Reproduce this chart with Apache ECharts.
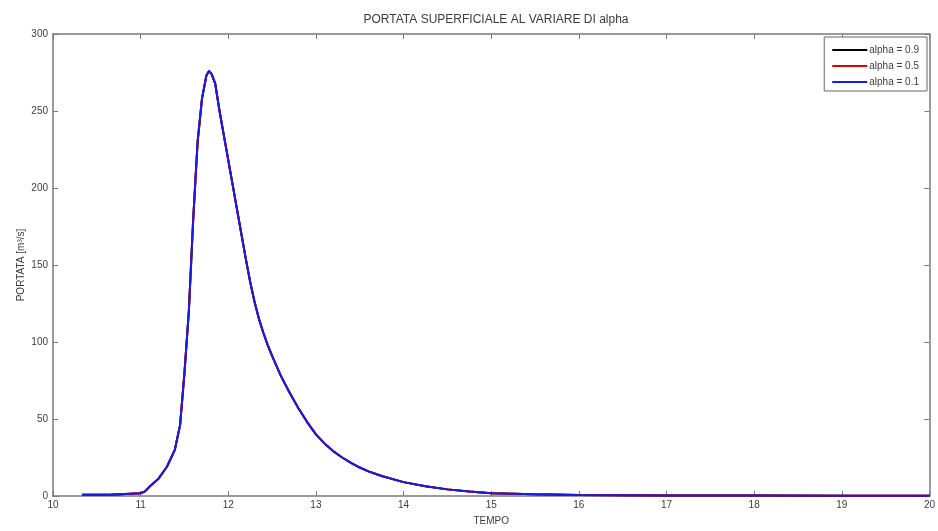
<!DOCTYPE html>
<html>
<head>
<meta charset="utf-8">
<script src="https://cdn.jsdelivr.net/npm/echarts@6/dist/echarts.min.js"></script>
<style>
  html, body { margin: 0; padding: 0; background: #fff; }
  #chart { width: 938px; height: 531px; }
</style>
</head>
<body>
<div id="chart"></div>
<script>
// Surface runoff hydrograph for three values of alpha
const tempo = [10.33, 10.65, 10.66, 11.0, 11.05, 11.1, 11.2, 11.3, 11.39, 11.45, 11.5, 11.55,
  11.6, 11.65, 11.7, 11.75, 11.78, 11.81, 11.85, 11.9, 11.95, 12.0, 12.05, 12.1, 12.15, 12.2,
  12.25, 12.3, 12.35, 12.4, 12.45, 12.5, 12.6, 12.7, 12.8, 12.9, 13.0, 13.1, 13.2, 13.3,
  13.4, 13.5, 13.6, 13.75, 14.0, 14.25, 14.5, 14.75, 15.0, 15.5, 16, 17, 18, 19, 20];

const portataAlpha09 = [0.8, 0.8, 1.5, 1.8, 3, 6, 11, 19, 30, 46, 80, 120,
  180, 230, 258, 273, 276, 274, 268, 250, 234, 218, 202, 186, 170, 154,
  139, 126, 115, 106, 98, 91, 78, 67, 57, 48, 40, 34, 29, 25,
  21.5, 18.5, 16, 13, 9, 6.3, 4.3, 2.9, 1.8, 1.1, 0.7, 0.4, 0.3, 0.2, 0.2];
const portataAlpha05 = [0.8, 0.8, 1.5, 1.8, 3, 6, 11, 19, 30, 46, 80, 120,
  180, 230, 258, 273, 276, 274, 268, 250, 234, 218, 202, 186, 170, 154,
  139, 126, 115, 106, 98, 91, 78, 67, 57, 48, 40, 34, 29, 25,
  21.5, 18.5, 16, 13, 9, 6.3, 4.3, 2.9, 1.8, 1.1, 0.7, 0.4, 0.3, 0.2, 0.2];
const portataAlpha01 = [0.8, 0.8, 1.5, 1.8, 3, 6, 11, 19, 30, 46, 80, 120,
  180, 230, 258, 273, 276, 274, 268, 250, 234, 218, 202, 186, 170, 154,
  139, 126, 115, 106, 98, 91, 78, 67, 57, 48, 40, 34, 29, 25,
  21.5, 18.5, 16, 13, 9, 6.3, 4.3, 2.9, 1.8, 1.1, 0.7, 0.4, 0.3, 0.2, 0.2];

const seriesNames = ['alpha = 0.9', 'alpha = 0.5', 'alpha = 0.1'];
const seriesColors = ['#000000', '#e00000', '#1a1ae0'];
const seriesValues = [portataAlpha09, portataAlpha05, portataAlpha01];

const FONT = '"Liberation Sans", Arial, sans-serif';
const AXIS_GREY = '#7a7a7a';
const TEXT_GREY = '#3c3c3c';

function pairs(xs, ys) { return xs.map((x, i) => [x, ys[i]]); }

const chart = echarts.init(document.getElementById('chart'), null, { renderer: 'canvas' });

const tickStyle = { show: true, inside: true, length: 5, lineStyle: { color: AXIS_GREY, width: 1 } };
const lineStyle = { show: true, onZero: false, lineStyle: { color: AXIS_GREY, width: 1.5 } };

chart.setOption({
  backgroundColor: '#ffffff',
  animation: false,
  title: {
    text: 'PORTATA SUPERFICIALE AL VARIARE DI alpha',
    left: 491, top: 9, textAlign: 'center',
    textStyle: { fontFamily: FONT, fontSize: 12, fontWeight: 'normal', color: TEXT_GREY }
  },
  legend: {
    data: seriesNames,
    orient: 'vertical',
    right: 11, top: 37,
    padding: [8, 8, 4, 8],
    itemGap: 6,
    itemWidth: 35, itemHeight: 2,
    icon: 'rect',
    backgroundColor: '#ffffff',
    borderColor: '#666666', borderWidth: 1, borderRadius: 0,
    textStyle: { fontFamily: FONT, fontSize: 10, color: TEXT_GREY, lineHeight: 10, padding: [0, 0, 0, -3] }
  },
  grid: { left: 53, right: 8, top: 34, bottom: 29, containLabel: false },
  xAxis: [{
    type: 'value', min: 10, max: 20, interval: 1, position: 'bottom',
    name: 'TEMPO', nameLocation: 'middle', nameGap: 20, nameMoveOverlap: false,
    nameTextStyle: { fontFamily: FONT, fontSize: 10, color: TEXT_GREY },
    axisLine: lineStyle, axisTick: tickStyle, splitLine: { show: false },
    axisLabel: { fontFamily: FONT, fontSize: 10, color: TEXT_GREY, margin: 4 }
  }, {
    type: 'value', min: 10, max: 20, interval: 1, position: 'top',
    axisLine: lineStyle, axisTick: tickStyle, splitLine: { show: false },
    axisLabel: { show: false }
  }],
  yAxis: [{
    type: 'value', min: 0, max: 300, interval: 50, position: 'left',
    name: 'PORTATA [m³/s]', nameLocation: 'middle', nameGap: 27, nameMoveOverlap: false,
    nameTextStyle: { fontFamily: FONT, fontSize: 10, color: TEXT_GREY },
    axisLine: lineStyle, axisTick: tickStyle, splitLine: { show: false },
    axisLabel: { fontFamily: FONT, fontSize: 10, color: TEXT_GREY, margin: 5 }
  }, {
    type: 'value', min: 0, max: 300, interval: 50, position: 'right',
    axisLine: lineStyle, axisTick: tickStyle, splitLine: { show: false },
    axisLabel: { show: false }
  }],
  series: seriesNames.map((name, i) => ({
    name: name,
    type: 'line',
    data: pairs(tempo, seriesValues[i]),
    showSymbol: false,
    symbol: 'none',
    smooth: false,
    color: seriesColors[i],
    lineStyle: { color: seriesColors[i], width: 2 },
    z: 2 + i
  }))
});
</script>
</body>
</html>
